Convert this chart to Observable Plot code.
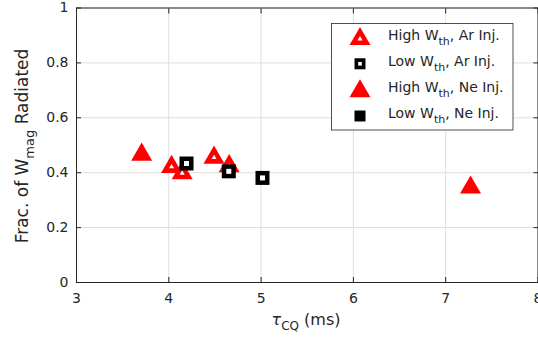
<!DOCTYPE html>
<html><head><meta charset="utf-8">
<script src="https://cdn.jsdelivr.net/npm/d3@7"></script>
<script src="https://cdn.jsdelivr.net/npm/@observablehq/plot@0.6"></script>
<style>body{margin:0;background:#fff;} svg{display:block;}</style>
</head><body><div id="chart"></div>
<script>
// Data
const highArTau = [4.03, 4.145, 4.49, 4.654];
const highArFrac = [0.432, 0.409, 0.466, 0.435];
const lowArTau = [4.192, 4.65, 5.015];
const lowArFrac = [0.4335, 0.405, 0.381];
const highNeTau = [3.706, 7.269];
const highNeFrac = [0.477, 0.357];
const lowNeTau = [];
const lowNeFrac = [];
const xTicks = [3, 4, 5, 6, 7, 8];
const yTicks = [0, 0.2, 0.4, 0.6, 0.8, 1];
const legendMain = ["High W", "Low W", "High W", "Low W"];
const legendSub = ["th", "th", "th", "th"];
const legendTail = [", Ar Inj.", ", Ar Inj.", ", Ne Inj.", ", Ne Inj."];

const toRows = (xs, ys) => xs.map((x, i) => ({tau: x, frac: ys[i]}));
const highAr = toRows(highArTau, highArFrac);
const lowAr = toRows(lowArTau, lowArFrac);
const highNe = toRows(highNeTau, highNeFrac);
const lowNe = toRows(lowNeTau, lowNeFrac);

const RED = "#ff0000";
const INK = "#262626";
const triR = Math.sqrt((Math.sqrt(3) / 4) * 21 * 21 / Math.PI);
const triHoleR = Math.sqrt((Math.sqrt(3) / 4) * 5 * 5 / Math.PI);
const sqR = 14 / Math.sqrt(Math.PI);
const sqHoleR = 5 / Math.sqrt(Math.PI);
const triDy = 3; // centre the triangle's bounding box on the point

const chart = Plot.plot({
  width: 538,
  height: 339,
  marginLeft: 76,
  marginRight: 0.5,
  marginTop: 7.5,
  marginBottom: 57,
  style: {fontFamily: "DejaVu Sans", fontSize: "14px", color: INK, background: "white"},
  x: {domain: [3, 8], ticks: xTicks},
  y: {domain: [0, 1], ticks: yTicks},
  marks: [
    Plot.gridX(xTicks, {stroke: "#dedede", strokeOpacity: 1}),
    Plot.gridY(yTicks, {stroke: "#dedede", strokeOpacity: 1}),
    Plot.axisX(xTicks, {anchor: "bottom", tickSize: 0, tickPadding: 11, label: null, tickFormat: d => String(d)}),
    Plot.axisY(yTicks, {anchor: "left", tickSize: 0, tickPadding: 8, label: null, tickFormat: d => String(d)}),
    Plot.axisX(xTicks, {anchor: "bottom", tickSize: -5, fill: "none", label: null, stroke: INK}),
    Plot.axisX(xTicks, {anchor: "top", tickSize: -5, fill: "none", label: null, stroke: INK}),
    Plot.axisY(yTicks, {anchor: "left", tickSize: -5, fill: "none", label: null, stroke: INK}),
    Plot.axisY(yTicks, {anchor: "right", tickSize: -5, fill: "none", label: null, stroke: INK}),
    Plot.frame({stroke: INK, strokeWidth: 1}),
    // High W_th, Ar Inj. (open triangles)
    Plot.dot(highAr, {x: "tau", y: "frac", symbol: "triangle", r: triR, fill: RED, stroke: null, dy: triDy}),
    Plot.dot(highAr, {x: "tau", y: "frac", symbol: "triangle", r: triHoleR, fill: "white", stroke: null, dy: triDy}),
    // Low W_th, Ar Inj. (open squares)
    Plot.dot(lowAr, {x: "tau", y: "frac", symbol: "square", r: sqR, fill: "black", stroke: null}),
    Plot.dot(lowAr, {x: "tau", y: "frac", symbol: "square", r: sqHoleR, fill: "white", stroke: null}),
    // High W_th, Ne Inj. (filled triangles)
    Plot.dot(highNe, {x: "tau", y: "frac", symbol: "triangle", r: triR, fill: RED, stroke: null, dy: triDy}),
    // Low W_th, Ne Inj. (filled squares)
    Plot.dot(lowNe, {x: "tau", y: "frac", symbol: "square", r: sqR, fill: "black", stroke: null})
  ]
});

const svg = d3.select(chart);
svg.style("overflow", "visible");

// Axis labels
const xl = svg.append("text")
  .attr("x", 306).attr("y", 325)
  .attr("text-anchor", "middle")
  .attr("fill", INK)
  .style("font-family", "DejaVu Sans").style("font-size", "16px");
xl.append("tspan").attr("fill", INK).text("τ").style("font-style", "italic");
xl.append("tspan").attr("fill", INK).attr("dy", 5).style("font-size", "12px").text("CQ");
xl.append("tspan").attr("fill", INK).attr("dy", -5).text(" (ms)");

const yl = svg.append("text")
  .attr("transform", "translate(28,146) rotate(-90)")
  .attr("text-anchor", "middle")
  .attr("fill", INK)
  .style("font-family", "DejaVu Sans").style("font-size", "17px");
yl.append("tspan").attr("fill", INK).text("Frac. of W");
yl.append("tspan").attr("fill", INK).attr("dy", 6).style("font-size", "13px").text("mag");
yl.append("tspan").attr("fill", INK).attr("dy", -6).text(" Radiated");

// Legend
const lg = svg.append("g");
lg.append("rect").attr("x", 331.5).attr("y", 23.5).attr("width", 181.5).attr("height", 106.5)
  .attr("fill", "white").attr("stroke", INK).attr("stroke-width", 0.8);
const markerY = [36, 63.8, 88.3, 116];
const textY = [40, 66, 92, 117.5];
const triPath = (r) => d3.symbol(d3.symbolTriangle, r * r * Math.PI)();
const sqPath = (side) => d3.symbol(d3.symbolSquare, side * side)();
const markers = [
  [{d: triPath(triR), f: RED, dy: triDy}, {d: triPath(triHoleR), f: "white", dy: triDy}],
  [{d: sqPath(11), f: "black", dy: 0}, {d: sqPath(3.6), f: "white", dy: 0}],
  [{d: triPath(triR), f: RED, dy: triDy}],
  [{d: sqPath(11), f: "black", dy: 0}]
];
markers.forEach((parts, i) => {
  parts.forEach(p => {
    lg.append("path").attr("d", p.d).attr("fill", p.f)
      .attr("transform", `translate(360,${markerY[i] + p.dy})`);
  });
  const t = lg.append("text").attr("x", 388).attr("y", textY[i])
    .attr("text-anchor", "start")
    .attr("fill", INK).style("font-family", "DejaVu Sans").style("font-size", "14px");
  t.append("tspan").attr("fill", INK).text(legendMain[i]);
  t.append("tspan").attr("fill", INK).attr("dy", 5).style("font-size", "11px").text(legendSub[i]);
  t.append("tspan").attr("fill", INK).attr("dy", -5).text(legendTail[i]);
});

document.getElementById("chart").appendChild(chart);
</script>
</body></html>
